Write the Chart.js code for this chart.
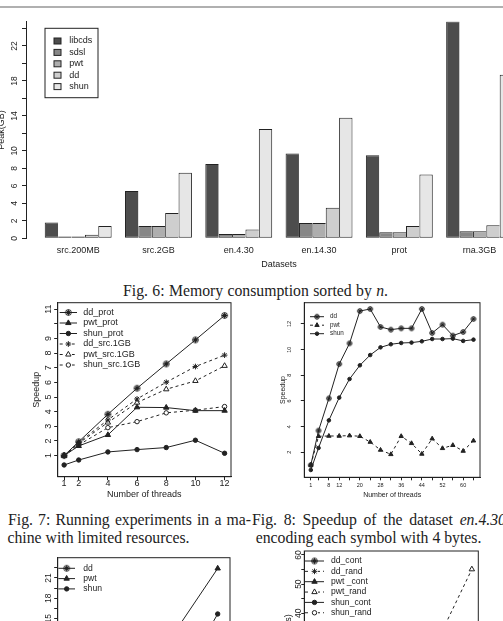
<!DOCTYPE html>
<html><head><meta charset="utf-8">
<script src="https://cdn.jsdelivr.net/npm/chart.js@4.4.1/dist/chart.umd.min.js"></script>
<style>
html,body{margin:0;padding:0;width:503px;height:621px;overflow:hidden;background:#fff;position:relative}
canvas{position:absolute}
.cap{position:absolute;font-family:"Liberation Serif","Times New Roman",serif;font-size:15.75px;line-height:18px;color:#222;white-space:nowrap;text-align:justify;text-align-last:justify}
#rule{position:absolute;left:0;top:6px;width:503px;height:2px;background:#b0b0b0}
</style></head><body>
<div id="rule"></div>
<div class="cap" style="left:123px;top:281.7px;width:265px">Fig. 6: Memory consumption sorted by <i>n</i>.</div>
<div class="cap" style="left:8px;top:511.2px;width:243px">Fig. 7: Running experiments in a ma-</div>
<div class="cap" style="left:252px;top:511.2px;width:254px">Fig. 8: Speedup of the dataset <i>en.4.30</i></div>
<div class="cap" style="left:7.5px;top:528.7px;text-align-last:left">chine with limited resources.</div>
<div class="cap" style="left:255.7px;top:528.7px;text-align-last:left">encoding each symbol with 4 bytes.</div>
<script>
// ===== DATA =====
const categories6 = ['src.200MB','src.2GB','en.4.30','en.14.30','prot','rna.3GB'];
const series6 = ['libcds','sdsl','pwt','dd','shun'];
const libcds6 = [1.8, 5.4, 8.5, 9.7, 9.5, 24.8];
const sdsl6   = [0.2, 1.4, 0.5, 1.75, 0.7, 0.8];
const pwt6    = [0.2, 1.4, 0.5, 1.75, 0.7, 0.8];
const dd6     = [0.4, 2.9, 1.0, 3.5, 1.4, 1.5];
const shun6   = [1.4, 7.5, 12.5, 13.8, 7.3, 18.7];
const yTicks6  = [0,2,4,6,8,10,12,14,16,18,20,22,24];
const yLabels6 = ['0','2','4','6','8','10','','14','','18','','22',''];

const threads7 = [1,2,4,6,8,10,12];
const xLabels7 = ['1','2','4','6','8','10','12'];
const ddProt7   = [1.0, 1.95, 3.82, 5.6, 7.26, 8.9, 10.57];
const pwtProt7  = [1.0, 1.66, 2.41, 4.3, 4.28, 4.07, 4.07];
const shunProt7 = [0.36, 0.7, 1.25, 1.41, 1.55, 2.05, 1.16];
const ddSrc7    = [1.0, 1.89, 3.44, 4.87, 6.01, 7.08, 7.86];
const pwtSrc7   = [1.0, 1.84, 3.26, 4.62, 5.53, 6.1, 7.13];
const shunSrc7  = [1.0, 1.73, 2.91, 3.32, 3.92, 4.1, 4.35];
const yTicks7  = [1,2,3,4,5,6,7,8,9,10,11];
const yLabels7 = ['1','2','3','4','5','6','7','8','9','','11'];

const threads8 = [1,4,8,12,16,20,24,28,32,36,40,44,48,52,56,60,64];
const xLabels8 = ['1','','8','12','','20','','28','','36','','44','','52','','60',''];
const dd8   = [1.01,3.69,6.2,8.88,10.49,13.01,13.17,11.77,11.56,11.66,11.66,13.17,11.3,11.95,11.09,11.38,12.39];
const pwt8  = [1.0,3.25,3.27,3.27,3.3,3.25,2.8,2.18,1.84,3.25,2.7,1.87,3.06,2.31,2.55,2.1,2.9];
const shun8 = [0.62,2.34,4.49,6.26,7.71,8.78,9.58,10.18,10.42,10.52,10.55,10.65,10.83,10.83,10.86,10.68,10.78];
const yTicks8  = [2,4,6,8,10,12];
const yLabels8 = ['2','4','6','8','10','12'];

const xBL = [1,2,3,4,5];
const xLabelsBL = ['1','2','3','4','5'];
const ddBL   = [null,null,null,null,null];
const pwtBL  = [null,null,null,14.0,22.4];
const shunBL = [null,null,null,5.9,15.7];
const yTicksBL  = [0,1.5,3,4.5,6,7.5,9,10.5,12,13.5,15,16.5,18,19.5,21,22.5];
const yLabelsBL = ['0','','3','','6','','9','','12','','15','','18','','21',''];

const threadsBR = [1,2,4,6,8,10,12];
const xLabelsBR = ['1','2','4','6','8','10','12'];
const ddContBR   = [null,null,null,null,null,null,null];
const ddRandBR   = [null,null,null,null,null,null,null];
const pwtContBR  = [null,null,null,null,null,null,null];
const pwtRandBR  = [null,null,null,null,null,34.2,55.1];
const shunContBR = [null,null,null,null,null,null,null];
const shunRandBR = [null,null,null,null,null,null,null];
const yTicksBR  = [10,15,20,25,30,35,40,45,50,55,60];
const yLabelsBR = ['10','','20','','30','','40','','50','','60'];

// ===== STYLE / HELPERS =====
const FONT = "'Liberation Sans', Arial, Helvetica, sans-serif";
const INK = '#222';
Chart.defaults.font.family = FONT;
Chart.defaults.color = INK;
Chart.defaults.animation = false;
Chart.defaults.plugins.legend.display = false;
Chart.defaults.plugins.tooltip.enabled = false;

function circStar(r){
  const s = Math.round(2*r + 3), m = s/2;
  const c = document.createElement('canvas'); c.width = s; c.height = s;
  const g = c.getContext('2d'); g.strokeStyle = INK; g.lineWidth = 1;
  g.beginPath(); g.arc(m, m, r, 0, 2*Math.PI); g.stroke();
  g.beginPath();
  for (let k = 0; k < 4; k++) { const a = k*Math.PI/4; g.moveTo(m+Math.cos(a)*r, m+Math.sin(a)*r); g.lineTo(m-Math.cos(a)*r, m-Math.sin(a)*r); }
  g.stroke();
  return c;
}
function marker(kind, sz){
  switch(kind){
    case 'cstar': return {ps: circStar(sz*1.1), r: sz, fill: INK};
    case 'star':  return {ps: 'star', r: sz*1.1, fill: INK};
    case 'tri':   return {ps: 'triangle', r: sz*1.2, fill: INK};
    case 'otri':  return {ps: 'triangle', r: sz*1.2, fill: '#fff'};
    case 'dot':   return {ps: 'circle', r: sz*0.85, fill: INK};
    case 'odot':  return {ps: 'circle', r: sz*0.85, fill: '#fff'};
  }
}
function pts(xs, ys){ const o = []; xs.forEach((x,i)=>{ if (ys[i] !== null && ys[i] !== undefined) o.push({x:x, y:ys[i]}); }); return o; }
function lineDS(label, xs, ys, kind, dashed, sz){
  const m = marker(kind, sz);
  return { label, data: pts(xs, ys), borderColor: INK, borderWidth: 1, borderDash: dashed ? [3,3] : [],
    fill: false, tension: 0, pointStyle: m.ps, pointRadius: m.r, pointBackgroundColor: m.fill,
    pointBorderColor: INK, pointBorderWidth: 1 };
}
function drawMarker(c, d, x, y){
  const st = d.pointStyle, r = d.pointRadius;
  if (typeof st === 'object') { c.drawImage(st, x - st.width/2, y - st.height/2); return; }
  c.save(); c.setLineDash([]); c.lineWidth = 1; c.strokeStyle = INK; c.fillStyle = d.pointBackgroundColor;
  c.beginPath();
  if (st === 'circle') { c.arc(x, y, r, 0, 2*Math.PI); c.fill(); c.stroke(); }
  else if (st === 'triangle') {
    let a = 0; c.moveTo(x+Math.sin(a)*r, y-Math.cos(a)*r);
    a += 2*Math.PI/3; c.lineTo(x+Math.sin(a)*r, y-Math.cos(a)*r);
    a += 2*Math.PI/3; c.lineTo(x+Math.sin(a)*r, y-Math.cos(a)*r);
    c.closePath(); c.fill(); c.stroke();
  } else if (st === 'star') {
    for (let k = 0; k < 4; k++) { const a = k*Math.PI/4; c.moveTo(x+Math.cos(a)*r, y+Math.sin(a)*r); c.lineTo(x-Math.cos(a)*r, y-Math.sin(a)*r); }
    c.stroke();
  }
  c.restore();
}
const rBox = { id: 'rbox', defaults: {on: false},
  afterDatasetsDraw(chart, args, o){ if (!o.on) return; const a = chart.chartArea, c = chart.ctx;
    c.save(); c.strokeStyle = INK; c.lineWidth = 1; c.strokeRect(a.left, a.top, a.right-a.left, a.bottom-a.top); c.restore(); } };
const rLegend = { id: 'rlegend', defaults: {spec: null},
  afterDraw(chart, args, o){ const s = o.spec; if (!s) return; const a = chart.chartArea, c = chart.ctx;
    c.save(); c.font = s.size + 'px ' + FONT; c.textBaseline = 'middle'; c.textAlign = 'left';
    if (s.frame) { c.strokeStyle = INK; c.lineWidth = 1; c.strokeRect(a.left+s.frame[0], a.top+s.frame[1], s.frame[2], s.frame[3]); }
    chart.data.datasets.forEach((d, i) => {
      const y = a.top + s.y0 + i*s.dy;
      if (s.swatch) {
        c.fillStyle = d.backgroundColor; c.fillRect(a.left+s.sx, y-s.sh/2, s.sw, s.sh);
        c.strokeStyle = INK; c.lineWidth = 1; c.strokeRect(a.left+s.sx, y-s.sh/2, s.sw, s.sh);
      } else {
        c.strokeStyle = INK; c.lineWidth = 1; c.setLineDash(d.borderDash || []);
        c.beginPath(); c.moveTo(a.left+s.x0, y); c.lineTo(a.left+s.x1, y); c.stroke(); c.setLineDash([]);
        if (d.borderDash && d.borderDash.length) { c.fillStyle = '#fff'; c.fillRect(a.left+(s.x0+s.x1)/2-3.5, y-3, 7, 6); }
        drawMarker(c, d, a.left+(s.x0+s.x1)/2, y);
      }
      c.fillStyle = INK; c.fillText(d.label, a.left+s.tx, y);
    });
    c.restore(); } };
Chart.register(rBox, rLegend);

function mkCanvas(left, top, w, h){
  const c = document.createElement('canvas'); c.width = w; c.height = h;
  c.style.left = left + 'px'; c.style.top = top + 'px'; c.style.width = w + 'px'; c.style.height = h + 'px';
  document.body.appendChild(c); return c;
}
function linAxis(o){
  return {
    type: 'linear', min: o.min, max: o.max, bounds: 'data', offset: false,
    afterBuildTicks: s => { s.ticks = o.ticks.map(v => ({value: v})); },
    afterFit: s => { if (o.vertical) s.width = o.size; else s.height = o.size; },
    grid: {display: true, drawOnChartArea: false, drawTicks: true, tickLength: o.tl, color: INK, lineWidth: 1, offset: false},
    border: {display: true, color: INK, width: 1},
    ticks: {autoSkip: false, minRotation: o.vertical ? 90 : 0, maxRotation: o.vertical ? 90 : 0,
      crossAlign: o.vertical ? 'center' : 'near', padding: o.pad, font: {size: o.fs}, color: INK,
      callback: (v, i) => o.labels[i]},
    title: {display: !!o.title, text: o.title || '', color: INK, font: {size: o.tfs || 9},
      padding: o.vertical ? {top: o.tpad || 0, bottom: 0} : {top: 0, bottom: o.tpad || 0}}
  };
}

// ===== FIG 6: bars =====
const vals6 = [libcds6, sdsl6, pwt6, dd6, shun6];
const cols6 = ['#4d4d4d', '#878787', '#aeaeae', '#cecece', '#e6e6e6'];
const ds6 = series6.map((name, k) => ({
  label: name, data: vals6[k].map((v, i) => ({x: i, y: v})),
  backgroundColor: cols6[k], borderColor: INK, borderSkipped: false,
  borderWidth: k < 4 ? {top: 1, left: 1, bottom: 1, right: 0} : 1,
  categoryPercentage: 5/6, barPercentage: 1
}));
new Chart(mkCanvas(-6, 0, 539, 280), {
  type: 'bar', data: {datasets: ds6},
  options: { responsive: false, layout: {padding: {top: 21.5, left: 0, right: 1.2, bottom: 0}},
    scales: {
      x: { type: 'linear', min: -0.65, max: 5.65, bounds: 'data', offset: false,
        afterBuildTicks: s => { s.ticks = categories6.map((_, i) => ({value: i})); },
        afterFit: s => { s.height = 41.7; },
        grid: {display: false, drawTicks: false, offset: false}, border: {display: false},
        ticks: {autoSkip: false, minRotation: 0, maxRotation: 0, padding: 7.3, font: {size: 9}, color: INK, callback: (v, i) => categories6[i]},
        title: {display: true, text: 'Datasets', color: INK, font: {size: 9}, padding: {top: 0, bottom: 9.6}} },
      y: linAxis({vertical: true, min: 0, max: 24.8, ticks: yTicks6, labels: yLabels6, size: 32, tl: 4, pad: 2.8, fs: 8.5, title: 'Peak(GB)', tpad: 2.1})
    },
    plugins: { rlegend: {spec: {frame: [19, 6.8, 53, 69.4], swatch: true, sx: 28, sw: 7, sh: 6, tx: 43.3, y0: 19.5, dy: 11.4, size: 9}} }
  }
});

// ===== FIG 7 =====
const sz7 = 2.6;
new Chart(mkCanvas(0, 285, 250, 220), {
  type: 'line',
  data: {datasets: [
    lineDS('dd_prot', threads7, ddProt7, 'cstar', false, sz7),
    lineDS('pwt_prot', threads7, pwtProt7, 'tri', false, sz7),
    lineDS('shun_prot', threads7, shunProt7, 'dot', false, sz7),
    lineDS('dd_src.1GB', threads7, ddSrc7, 'star', true, sz7),
    lineDS('pwt_src.1GB', threads7, pwtSrc7, 'otri', true, sz7),
    lineDS('shun_src.1GB', threads7, shunSrc7, 'odot', true, sz7)
  ]},
  options: { responsive: false, layout: {padding: {top: 17.7, right: 19, left: 0, bottom: 0}},
    scales: {
      x: linAxis({min: 0.56, max: 12.44, ticks: threads7, labels: xLabels7, size: 28.3, tl: 3.5, pad: -1.6, fs: 9, title: 'Number of threads', tpad: 5.1}),
      y: linAxis({vertical: true, min: -0.44, max: 11.44, ticks: yTicks7, labels: yLabels7, size: 57.7, tl: 3.5, pad: 0.9, fs: 9, title: 'Speedup', tpad: 31.3})
    },
    plugins: { rbox: {on: true}, rlegend: {spec: {x0: 2, x1: 19.3, tx: 25.6, y0: 9.8, dy: 10.5, size: 9}} }
  }
});

// ===== FIG 8 =====
const sz8 = 2.1;
new Chart(mkCanvas(250, 285, 253, 220), {
  type: 'line',
  data: {datasets: [
    lineDS('dd', threads8, dd8, 'cstar', false, sz8),
    lineDS('pwt', threads8, pwt8, 'tri', true, sz8),
    lineDS('shun', threads8, shun8, 'dot', false, sz8)
  ]},
  options: { responsive: false, layout: {padding: {top: 17.7, right: 23, left: 0, bottom: 0}},
    scales: {
      x: linAxis({min: -1.52, max: 66.52, ticks: threads8, labels: xLabels8, size: 27.7, tl: 3, pad: 1.4, fs: 5.5, title: 'Number of threads', tfs: 7, tpad: 5.3}),
      y: linAxis({vertical: true, min: 0.05, max: 13.66, ticks: yTicks8, labels: yLabels8, size: 54.3, tl: 3.5, pad: 8.5, fs: 5.5, title: 'Speedup', tfs: 7, tpad: 29.1})
    },
    plugins: { rbox: {on: true}, rlegend: {spec: {x0: 5.7, x1: 19.7, tx: 25.7, y0: 14, dy: 8.5, size: 6.3}} }
  }
});

// ===== bottom-left =====
new Chart(mkCanvas(0, 540, 250, 220), {
  type: 'line',
  data: {datasets: [
    lineDS('dd', xBL, ddBL, 'cstar', false, sz7),
    lineDS('pwt', xBL, pwtBL, 'tri', false, sz7),
    lineDS('shun', xBL, shunBL, 'dot', false, sz7)
  ]},
  options: { responsive: false, layout: {padding: {top: 17.7, right: 20, left: 0, bottom: 0}},
    scales: {
      x: linAxis({min: 0.84, max: 5.32, ticks: xBL, labels: xLabelsBL, size: 28.3, tl: 3.5, pad: -1.6, fs: 9}),
      y: linAxis({vertical: true, min: -1.62, max: 23.98, ticks: yTicksBL, labels: yLabelsBL, size: 57.7, tl: 3.5, pad: 0.5, fs: 8.5})
    },
    plugins: { rbox: {on: true}, rlegend: {spec: {x0: 0.6, x1: 17.3, tx: 25.6, y0: 10.6, dy: 10.3, size: 8.6}} }
  }
});

// ===== bottom-right =====
new Chart(mkCanvas(250, 540, 253, 220), {
  type: 'line',
  data: {datasets: [
    lineDS('dd_cont', threadsBR, ddContBR, 'cstar', false, sz7),
    lineDS('dd_rand', threadsBR, ddRandBR, 'star', true, sz7),
    lineDS('pwt _cont', threadsBR, pwtContBR, 'tri', false, sz7),
    lineDS('pwt_rand', threadsBR, pwtRandBR, 'otri', true, sz7),
    lineDS('shun_cont', threadsBR, shunContBR, 'dot', false, sz7),
    lineDS('shun_rand', threadsBR, shunRandBR, 'odot', true, sz7)
  ]},
  options: { responsive: false, layout: {padding: {top: 11, right: 24.7, left: 0, bottom: 0}},
    scales: {
      x: linAxis({min: 0.56, max: 12.44, ticks: threadsBR, labels: xLabelsBR, size: 50, tl: 3, pad: -1.6, fs: 9}),
      y: linAxis({vertical: true, min: 6.82, max: 61.37, ticks: yTicksBR, labels: yLabelsBR, size: 54.3, tl: 3, pad: -2.4, fs: 8.5, title: 'Time (s)', tpad: 32.9})
    },
    plugins: { rbox: {on: true}, rlegend: {spec: {x0: 0.7, x1: 19.7, tx: 26.7, y0: 10, dy: 10.35, size: 8.6}} }
  }
});
</script>
</body></html>
